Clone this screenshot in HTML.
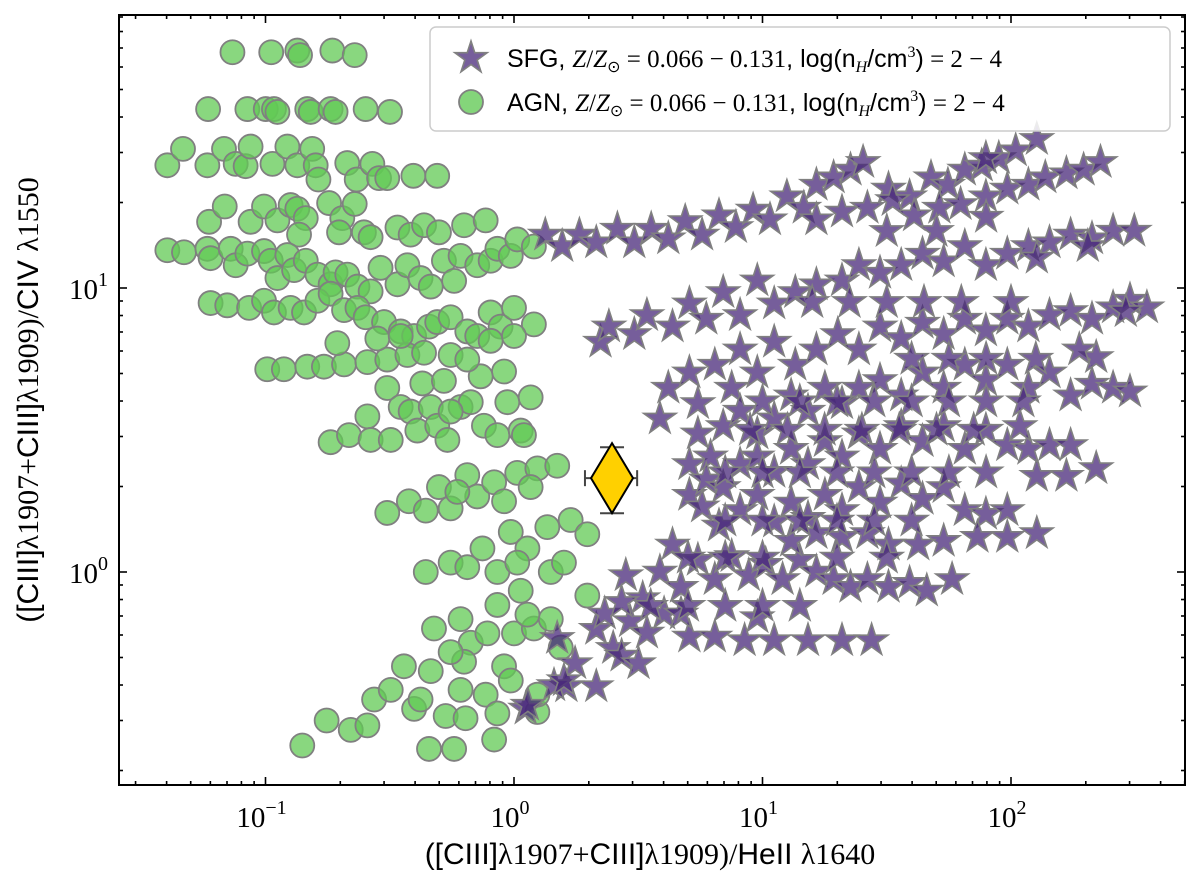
<!DOCTYPE html>
<html><head><meta charset="utf-8"><style>
html,body{margin:0;padding:0;background:#fff;}
svg{display:block;}
.tick{font-family:"Liberation Serif",serif;font-size:29px;fill:#000;}
.sup{font-size:20px;}
.lab{font-family:"Liberation Sans",sans-serif;font-size:30px;fill:#000;}
.ser{font-family:"Liberation Serif",serif;}
.leg{font-family:"Liberation Sans",sans-serif;font-size:25px;fill:#000;}
</style></head><body>
<svg id="chart" width="1200" height="879" viewBox="0 0 1200 879" xmlns="http://www.w3.org/2000/svg">
<rect x="0" y="0" width="1200" height="879" fill="#fff"/>
<g id="marks"></g>
<g id="axes"></g>
<g id="legend">
  <rect x="430" y="27" width="740" height="104" rx="6" fill="#fff" fill-opacity="0.85" stroke="#ccc" stroke-width="1.5"/>
  <g id="legstar"></g>
  <circle cx="471" cy="102" r="12" fill="#62c954" fill-opacity="0.78" stroke="#808080" stroke-width="1.8"/>
  <text class="leg" x="507" y="67">SFG, <tspan class="ser" font-style="italic">Z</tspan><tspan class="ser">/</tspan><tspan class="ser" font-style="italic">Z</tspan><tspan class="ser" font-size="16" dy="5">⊙</tspan><tspan class="ser" dy="-5"> = 0.066 − 0.131</tspan>, log(n<tspan font-size="16" dy="5" class="ser" font-style="italic">H</tspan><tspan dy="-5">/cm</tspan><tspan font-size="16" dy="-10" class="ser">3</tspan><tspan dy="10">)</tspan><tspan class="ser"> = 2 − 4</tspan></text>
  <text class="leg" x="507" y="111">AGN, <tspan class="ser" font-style="italic">Z</tspan><tspan class="ser">/</tspan><tspan class="ser" font-style="italic">Z</tspan><tspan class="ser" font-size="16" dy="5">⊙</tspan><tspan class="ser" dy="-5"> = 0.066 − 0.131</tspan>, log(n<tspan font-size="16" dy="5" class="ser" font-style="italic">H</tspan><tspan dy="-5">/cm</tspan><tspan font-size="16" dy="-10" class="ser">3</tspan><tspan dy="10">)</tspan><tspan class="ser"> = 2 − 4</tspan></text>
</g>
<text class="lab" x="650" y="864" text-anchor="middle">([CIII]<tspan class="ser">λ1907+</tspan>CIII]<tspan class="ser">λ1909)/</tspan>HeII <tspan class="ser">λ1640</tspan></text>
<text class="lab" transform="translate(38,400) rotate(-90)" text-anchor="middle">([CIII]<tspan class="ser">λ1907+</tspan>CIII]<tspan class="ser">λ1909)/</tspan>CIV <tspan class="ser">λ1550</tspan></text>
</svg>
<script>
// log10 values: [log10(CIII/HeII), log10(CIII/CIV)]
const agnPoints = [
[-1.133,1.83],[-0.977,1.83],[-0.872,1.836],[-0.861,1.82],[-0.731,1.836],[-0.641,1.82],
[-1.231,1.63],[-1.073,1.63],[-0.999,1.63],[-0.966,1.63],[-0.952,1.62],[-0.832,1.63],[-0.818,1.62],[-0.738,1.63],[-0.718,1.62],[-0.597,1.63],[-0.499,1.62],
[-1.395,1.432],[-1.332,1.49],[-1.234,1.432],[-1.167,1.49],[-1.12,1.437],[-1.08,1.429],[-1.06,1.498],[-0.972,1.437],[-0.912,1.498],[-0.872,1.432],[-0.812,1.49],[-0.798,1.432],[-0.787,1.382],[-0.671,1.44],[-0.633,1.382],[-0.57,1.437],[-0.543,1.387],[-0.51,1.387],[-0.405,1.395],[-0.309,1.395],
[-1.227,1.233],[-1.164,1.287],[-1.06,1.233],[-1.006,1.287],[-0.952,1.238],[-0.899,1.292],[-0.872,1.279],[-0.838,1.246],[-0.744,1.299],[-0.691,1.246],[-0.641,1.296],[-0.704,1.196],[-0.865,1.188],[-0.604,1.196],[-0.577,1.179],[-0.469,1.213],[-0.416,1.188],[-0.362,1.221],[-0.302,1.196],[-0.201,1.221],[-0.114,1.238],
[-1.395,1.133],[-1.328,1.126],[-1.234,1.138],[-1.221,1.105],[-1.14,1.138],[-1.12,1.08],[-1.073,1.121],[-1.006,1.13],[-0.979,1.096],[-0.952,1.035],[-0.912,1.116],[-0.885,1.063],[-0.838,1.096],[-0.791,1.047],[-0.738,1.013],[-0.718,1.055],[-0.671,1.047],[-0.63,1.005],[-0.577,0.988],[-0.537,1.071],[-0.469,1.013],[-0.429,1.08],[-0.376,1.035],[-0.335,1.005],[-0.282,1.096],[-0.241,1.025],[-0.215,1.113],[-0.148,1.08],[-0.094,1.096],[-0.067,1.138],[-0.013,1.113],[0.013,1.171],[0.08,1.146],
[-1.221,0.947],[-1.154,0.939],[-1.066,0.93],[-1.006,0.955],[-0.966,0.914],[-0.899,0.93],[-0.845,0.914],[-0.791,0.955],[-0.738,0.98],[-0.684,0.922],[-0.63,0.93],[-0.597,0.897],[-0.523,0.88],[-0.456,0.847],[-0.402,0.831],[-0.342,0.864],[-0.309,0.88],[-0.255,0.897],[-0.188,0.847],[-0.148,0.831],[-0.094,0.914],[-0.054,0.864],[0,0.93],[0.08,0.872],
[-0.993,0.714],[-0.926,0.714],[-0.832,0.723],[-0.765,0.723],[-0.684,0.731],[-0.59,0.739],[-0.51,0.748],[-0.429,0.764],[-0.362,0.772],[-0.711,0.806],[-0.55,0.822],[-0.456,0.831],[-0.51,0.648],[-0.369,0.664],[-0.282,0.673],[-0.255,0.764],[-0.134,0.689],[-0.04,0.706],[-0.188,0.748],[-0.094,0.814],[0,0.831],
[-0.738,0.457],[-0.664,0.482],[-0.59,0.548],[-0.577,0.465],[-0.496,0.465],[-0.456,0.581],[-0.416,0.565],[-0.389,0.498],[-0.335,0.581],[-0.309,0.515],[-0.268,0.465],[-0.215,0.581],[-0.174,0.598],[-0.121,0.515],[-0.067,0.482],[-0.027,0.598],[0.027,0.498],[0.067,0.615],[0.04,0.482],[-0.255,0.565],
[-0.51,0.208],[-0.423,0.249],[-0.355,0.216],[-0.302,0.299],[-0.255,0.224],[-0.188,0.341],[-0.148,0.266],[-0.08,0.316],[-0.04,0.249],[0.013,0.349],[0.094,0.365],[0.174,0.374],[0.067,0.299],[-0.228,0.282],
[-0.355,0],[-0.255,0.033],[-0.188,0.017],[-0.127,0.083],[-0.067,0],[-0.013,0.141],[0.054,0.083],[0.134,0.158],[0.148,0],[0.228,0.183],[0.201,0.033],[0.295,0.133],[0.013,0.033],
[-0.322,-0.199],[-0.215,-0.166],[-0.174,-0.249],[-0.107,-0.216],[-0.067,-0.116],[0,-0.216],[0.027,-0.066],[0.08,-0.199],[0.148,-0.166],[0.188,-0.266],[0.295,-0.083],[-0.201,-0.316],[-0.04,-0.332],[0.054,-0.15],
[-0.852,-0.611],[-0.754,-0.523],[-0.657,-0.556],[-0.59,-0.54],[-0.563,-0.449],[-0.496,-0.415],[-0.443,-0.332],[-0.402,-0.482],[-0.376,-0.449],[-0.335,-0.349],[-0.275,-0.507],[-0.195,-0.515],[-0.215,-0.415],[-0.114,-0.432],[-0.067,-0.498],[-0.08,-0.59],[-0.342,-0.623],[-0.241,-0.623],[0.094,-0.493],[-0.013,-0.382],[0.094,-0.432],[-0.255,-0.282]
];
const sfgPoints = [
[0.126,1.187],[0.194,1.147],[0.263,1.187],[0.331,1.16],[0.416,1.208],[0.484,1.16],[0.552,1.208],[0.621,1.174],[0.689,1.235],[0.757,1.187],[0.825,1.255],[0.893,1.214],[0.962,1.275],[1.03,1.241],[1.098,1.322],[1.166,1.282],[1.217,1.363],[1.286,1.389],[1.354,1.416],[1.405,1.443],
[1.507,1.349],[1.592,1.322],[1.678,1.389],[1.746,1.363],[1.814,1.416],[1.882,1.43],[1.951,1.457],[2.019,1.484],[2.104,1.524],[1.899,1.457],
[1.217,1.241],[1.32,1.268],[1.422,1.282],[1.524,1.309],[1.61,1.255],[1.712,1.282],[1.797,1.295],[1.899,1.322],[1.985,1.349],[2.07,1.363],[2.138,1.389],[2.223,1.403],[2.292,1.416],[2.36,1.443],
[0.348,0.81],[0.382,0.864],[0.484,0.837],[0.535,0.904],[0.638,0.864],[0.706,0.945],[0.774,0.891],[0.842,0.985],[0.91,0.904],[0.979,1.026],[1.047,0.945],[1.132,0.985],[1.217,1.012],[1.32,1.026],[1.388,1.08],[1.473,1.053],[1.558,1.08],[1.644,1.12],[1.729,1.093],[1.814,1.147],[1.899,1.08],[1.985,1.12],[2.07,1.147],[2.155,1.16],[2.24,1.187],[2.326,1.174],[2.411,1.201],[2.496,1.201],[2.104,1.106],[2.309,1.147],
[0.587,0.54],[0.621,0.648],[0.706,0.702],[0.74,0.594],[0.808,0.729],[0.876,0.648],[0.91,0.783],[0.979,0.702],[1.047,0.81],[1.132,0.729],[1.217,0.783],[1.303,0.837],[1.388,0.783],[1.473,0.864],[1.558,0.823],[1.644,0.877],[1.729,0.837],[1.814,0.891],[1.899,0.85],[1.985,0.891],[2.07,0.864],[2.155,0.904],[2.24,0.918],[2.326,0.891],[2.411,0.931],[2.479,0.958],[2.547,0.931],[2.462,0.918],
[0.706,0.379],[0.74,0.487],[0.791,0.406],[0.842,0.513],[0.91,0.567],[0.979,0.487],[1.047,0.54],[1.115,0.621],[1.183,0.567],[1.251,0.648],[1.32,0.594],[1.388,0.648],[1.473,0.675],[1.558,0.621],[1.644,0.702],[1.729,0.648],[1.814,0.729],[1.899,0.675],[1.985,0.729],[2.07,0.648],[2.155,0.702],[2.24,0.621],[2.326,0.662],[2.411,0.648],[2.479,0.635],[2.343,0.756],[2.275,0.783],
[0.706,0.271],[0.774,0.325],[0.842,0.298],[0.91,0.379],[0.979,0.406],[1.047,0.352],[1.115,0.433],[1.183,0.379],[1.251,0.46],[1.32,0.406],[1.388,0.487],[1.473,0.433],[1.558,0.513],[1.644,0.46],[1.729,0.513],[1.814,0.433],[1.899,0.5],[1.985,0.446],[2.07,0.433],[2.155,0.446],[2.24,0.446],[2.104,0.338],[2.223,0.338],[2.343,0.365],[2.036,0.513],
[0.757,0.23],[0.825,0.163],[0.91,0.217],[0.979,0.271],[1.047,0.177],[1.115,0.244],[1.183,0.19],[1.251,0.271],[1.32,0.217],[1.388,0.298],[1.473,0.244],[1.558,0.311],[1.644,0.257],[1.729,0.298],[1.814,0.217],[1.899,0.204],[1.985,0.217],[1.865,0.123],[1.985,0.123],[2.104,0.136],[1.729,0.109],[1.627,0.096],[1.507,0.096],
[0.45,-0.012],[0.518,-0.093],[0.587,0.001],[0.638,0.096],[0.672,-0.053],[0.74,0.042],[0.808,-0.026],[0.876,0.055],[0.945,-0.012],[1.013,0.028],[1.081,-0.026],[1.149,0.042],[1.217,0.001],[1.286,-0.026],[1.354,-0.053],[1.422,-0.026],[1.507,-0.053],[1.592,-0.039],[1.661,-0.066],[1.763,-0.026],[1.115,0.109],[1.217,0.136],[1.32,0.123],[1.422,0.136],
[0.246,-0.322],[0.331,-0.201],[0.399,-0.268],[0.467,-0.174],[0.535,-0.214],[0.604,-0.147],[0.706,-0.228],[0.808,-0.228],[0.928,-0.241],[1.047,-0.241],[1.183,-0.241],[1.32,-0.241],[1.439,-0.241],[0.365,-0.147],[0.433,-0.106],[0.211,-0.403],[0.331,-0.403],[0.672,-0.147],[0.979,-0.16],[0.433,-0.295],[0.501,-0.322],
[0.047,-0.482],[0.174,-0.233],[0.161,-0.399],[0.201,-0.382],[0.056,-0.468],
[1.0,0.6],[1.15,0.6],[1.3,0.6],[1.45,0.6],[1.6,0.6],[1.75,0.6],[1.9,0.6],[2.05,0.6],
[0.95,0.5],[1.1,0.5],[1.25,0.5],[1.4,0.5],[1.55,0.5],[1.7,0.5],[1.85,0.5],
[0.85,0.35],[1.0,0.35],[1.15,0.35],[1.3,0.35],[1.45,0.35],[1.6,0.35],[1.75,0.35],[1.9,0.35],
[0.85,0.18],[1.0,0.18],[1.15,0.18],[1.3,0.18],[1.45,0.18],[1.6,0.18],
[0.7,0.05],[0.85,0.05],[1.0,0.05],[1.3,0.05],[1.5,0.05],
[0.55,-0.12],[0.7,-0.12],[0.85,-0.12],[1.0,-0.12],[1.15,-0.12],
[1.2,0.95],[1.35,0.95],[1.5,0.95],[1.65,0.95],[1.8,0.95],[2.0,0.95],
[1.6,0.75],[1.75,0.75],[1.9,0.75],[2.1,0.75],
[1.5,1.2],[1.7,1.2],[1.9,1.25]
];
// observed object: value and error range (linear units)
const obsX = [2.48], obsXlo = [1.93], obsXhi = [3.13];
const obsY = [2.14], obsYlo = [1.61], obsYhi = [2.75];
const xMajorExp = [-1, 0, 1, 2];
const yMajorExp = [0, 1];

const L=119, R=1185, T=15, B=785;
const X0=514, XD=248.5, Y0=572, YD=284;
const xs = lg => X0 + lg*XD;
const ys = lg => Y0 - lg*YD;
const NS='http://www.w3.org/2000/svg';
const marks=document.getElementById('marks');
const axes=document.getElementById('axes');
function mk(tag, attrs){const e=document.createElementNS(NS,tag);for(const k in attrs)e.setAttribute(k,attrs[k]);return e;}
function starPath(cx,cy,r){let d='';for(let i=0;i<10;i++){const rr=i%2?r*0.382:r;const a=-Math.PI/2+i*Math.PI/5;d+=(i?'L':'M')+(cx+rr*Math.cos(a)).toFixed(1)+' '+(cy+rr*Math.sin(a)).toFixed(1);}return d+'Z';}

const clip=mk('clipPath',{id:'pc'});clip.appendChild(mk('rect',{x:L,y:T,width:R-L,height:B-T}));
document.getElementById('chart').appendChild(clip);
marks.setAttribute('clip-path','url(#pc)');

agnPoints.forEach(p=>{
  const c=mk('circle',{cx:xs(p[0]),cy:ys(p[1]),r:12,fill:'#62c954','fill-opacity':0.75,stroke:'#808080','stroke-width':1.8});
  
  
  marks.appendChild(c);
});
sfgPoints.forEach(p=>{
  const s=mk('path',{d:starPath(xs(p[0]),ys(p[1]),17),fill:'#48287a','fill-opacity':0.75,stroke:'#808080','stroke-width':1.6});
  
  
  marks.appendChild(s);
});
document.getElementById('legstar').appendChild(mk('path',{d:starPath(471,58,17),fill:'#48287a','fill-opacity':0.75,stroke:'#808080','stroke-width':1.6}));

// observed point with error bars
obsX.forEach((v,i)=>{
  const cx=xs(Math.log10(v)), cy=ys(Math.log10(obsY[i]));
  const g=mk('g',{});
  
  
  const x1=xs(Math.log10(obsXlo[i])), x2=xs(Math.log10(obsXhi[i]));
  const y1=ys(Math.log10(obsYhi[i])), y2=ys(Math.log10(obsYlo[i]));
  const st={stroke:'#444','stroke-width':2};
  g.appendChild(mk('line',Object.assign({x1:x1,y1:cy,x2:x2,y2:cy},st)));
  g.appendChild(mk('line',Object.assign({x1:cx,y1:y1,x2:cx,y2:y2},st)));
  g.appendChild(mk('line',Object.assign({x1:x1,y1:cy-8,x2:x1,y2:cy+8},st)));
  g.appendChild(mk('line',Object.assign({x1:x2,y1:cy-8,x2:x2,y2:cy+8},st)));
  g.appendChild(mk('line',Object.assign({x1:cx-12,y1:y1,x2:cx+12,y2:y1},st)));
  g.appendChild(mk('line',Object.assign({x1:cx-12,y1:y2,x2:cx+12,y2:y2},st)));
  g.appendChild(mk('path',{d:`M${cx} ${cy-35}L${cx+21} ${cy}L${cx} ${cy+35}L${cx-21} ${cy}Z`,fill:'#ffd000',stroke:'#000','stroke-width':2}));
  marks.parentNode.insertBefore(g, document.getElementById('axes'));
});

// frame
axes.appendChild(mk('rect',{x:L,y:T,width:R-L,height:B-T,fill:'none',stroke:'#000','stroke-width':2}));
function tickLine(x1,y1,x2,y2){axes.appendChild(mk('line',{x1,y1,x2,y2,stroke:'#000','stroke-width':1.6}));}
// x ticks
for(let e=-2;e<=2;e++){for(let m=1;m<10;m++){const lg=e+Math.log10(m);const x=xs(lg);if(x<L||x>R)continue;const len=m===1?8:4;tickLine(x,B,x,B-len);tickLine(x,T,x,T+len);}}
xMajorExp.forEach(e=>{
  const t=mk('text',{class:'tick',x:xs(e)-4,y:B+42,'text-anchor':'middle'});
  
  
  t.innerHTML='10<tspan class="sup" dy="-13">'+(e<0?'−'+(-e):e)+'</tspan>';
  axes.appendChild(t);
});
// y ticks
for(let e=-1;e<=1;e++){for(let m=1;m<10;m++){const lg=e+Math.log10(m);const y=ys(lg);if(y<T||y>B)continue;const len=m===1?8:4;tickLine(L,y,L+len,y);tickLine(R,y,R-len,y);}}
yMajorExp.forEach(e=>{
  const t=mk('text',{class:'tick',x:108,y:ys(e)+11,'text-anchor':'end'});
  
  
  t.innerHTML='10<tspan class="sup" dy="-13">'+e+'</tspan>';
  axes.appendChild(t);
});
</script>
</body></html>
